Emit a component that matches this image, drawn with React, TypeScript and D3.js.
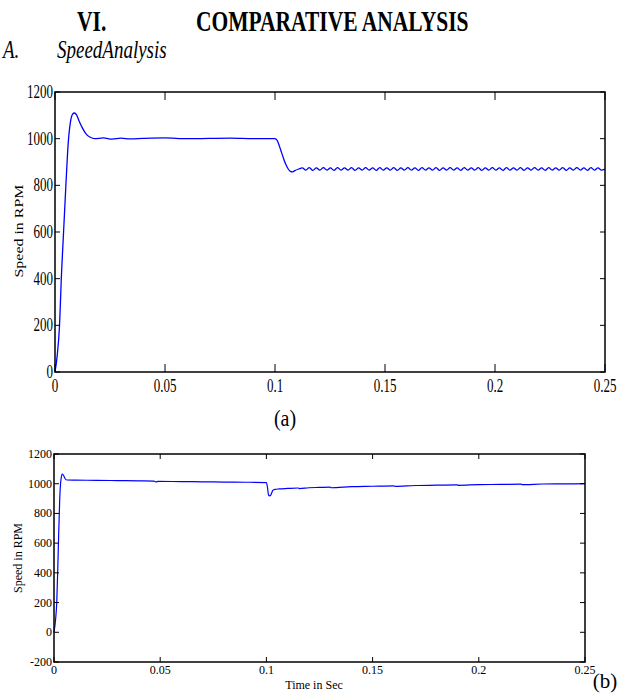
import React from "react";
import * as d3 from "d3";

// ---------- Data ----------
const xTicks = [0, 0.05, 0.1, 0.15, 0.2, 0.25];
const xTickLabels = ["0", "0.05", "0.1", "0.15", "0.2", "0.25"];
const yTicksA = [0, 200, 400, 600, 800, 1000, 1200];
const yTicksB = [-200, 0, 200, 400, 600, 800, 1000, 1200];

// (a) speed response: start-up, steady state, load step at 0.1 s
const timeA = [0, 0.001, 0.002, 0.003, 0.004, 0.005, 0.006, 0.007, 0.008, 0.0088, 0.0098, 0.011, 0.0125, 0.014, 0.016, 0.018, 0.022, 0.026, 0.03, 0.034, 0.04, 0.05, 0.06, 0.07, 0.08, 0.09, 0.1, 0.101, 0.102, 0.103, 0.104, 0.105, 0.106, 0.107, 0.108, 0.109, 0.1108];
const speedA = [0, 70, 190, 430, 620, 810, 980, 1070, 1105, 1110, 1102, 1075, 1045, 1022, 1006, 1000, 1003, 998, 1002, 999, 1001, 1003, 1000, 1001, 1002, 1000, 1000, 992, 968, 940, 912, 888, 870, 860, 858, 863, 870];
// (a) ripple after the load step, sampled every 1.6 ms from 0.1108 s
const rippleAStart = 0.1108;
const rippleAStep = 0.0016;
const rippleA = [
  870, 875, 865, 876, 864, 875, 865, 876, 865, 875, 864, 876, 865, 875, 865, 876,
  864, 875, 865, 876, 865, 875, 864, 876, 865, 875, 865, 876, 864, 875, 865, 876,
  865, 875, 864, 876, 865, 875, 865, 876, 864, 875, 865, 876, 865, 875, 864, 876,
  865, 875, 865, 876, 864, 875, 865, 876, 865, 875, 864, 876, 865, 875, 865, 876,
  864, 875, 865, 876, 865, 875, 864, 876, 865, 875, 865, 876, 864, 875, 865, 876,
  865, 875, 864, 876, 865, 875, 865, 870,
];

// (b) speed response
const timeB = [0, 0.0007, 0.0013, 0.002, 0.0027, 0.0033, 0.0039, 0.0045, 0.0052, 0.006, 0.01, 0.02, 0.03, 0.04, 0.047, 0.048, 0.049, 0.06, 0.07, 0.08, 0.09, 0.1, 0.1005, 0.101, 0.1015, 0.102, 0.1025, 0.103, 0.104, 0.106, 0.11, 0.115, 0.1155, 0.12, 0.125, 0.13, 0.1305, 0.14, 0.15, 0.16, 0.1605, 0.17, 0.18, 0.19, 0.1905, 0.2, 0.21, 0.22, 0.2205, 0.23, 0.24, 0.25];
const speedB = [0, 80, 200, 550, 900, 1030, 1065, 1055, 1035, 1025, 1024, 1023, 1021, 1019, 1017, 1012, 1016, 1014, 1013, 1011, 1010, 1008, 975, 925, 918, 922, 938, 955, 962, 965, 968, 971, 967, 973, 975, 977, 973, 980, 983, 986, 982, 988, 990, 992, 989, 994, 995, 997, 994, 998, 999, 1000];

// ---------- Helpers ----------
const FONT = '"Liberation Serif","Times New Roman",Times,serif';

type TProps = {
  x: number; y: number; sx?: number; sy?: number; rotate?: number;
  size: number; anchor?: "start" | "middle" | "end"; weight?: string; italic?: boolean;
  children: React.ReactNode; clip?: string;
};
function T({ x, y, sx = 1, sy = 1, rotate, size, anchor = "start", weight, italic, children, clip }: TProps) {
  const tr = `translate(${x},${y})${rotate ? ` rotate(${rotate})` : ""} scale(${sx},${sy})`;
  return (
    <text
      transform={tr}
      fontSize={size}
      fontFamily={FONT}
      textAnchor={anchor}
      fontWeight={weight}
      fontStyle={italic ? "italic" : undefined}
      fill="#000"
      clipPath={clip}
    >
      {children}
    </text>
  );
}

type ChartProps = {
  x0: number; x1: number; yTop: number; yBot: number;
  yDomain: [number, number]; yTicks: number[];
  times: number[]; values: number[];
  xTickLen: number; yTickLen: number;
  lblSize: number; lblSy: number; yLblSize: number; yLblSy: number;
  xLblBase: number; yLblDy: number; lineW: number;
};

function Chart(p: ChartProps) {
  const x = d3.scaleLinear().domain([0, 0.25]).range([p.x0, p.x1]);
  const y = d3.scaleLinear().domain(p.yDomain).range([p.yBot, p.yTop]);
  const pts = p.times.map((t, i) => [t, p.values[i]] as [number, number]);
  const line = d3
    .line<[number, number]>()
    .x((d) => x(d[0]))
    .y((d) => y(d[1]))
    .curve(d3.curveMonotoneX);
  return (
    <g>
      <path d={line(pts) || ""} fill="none" stroke="#0000ff" strokeWidth={p.lineW} />
      <rect x={p.x0} y={p.yTop} width={p.x1 - p.x0} height={p.yBot - p.yTop} fill="none" stroke="#000" strokeWidth={1.5} />
      {xTicks.map((t, i) => (
        <g key={"xt" + i}>
          <line x1={x(t)} x2={x(t)} y1={p.yBot} y2={p.yBot - p.xTickLen} stroke="#000" strokeWidth={1} />
          <line x1={x(t)} x2={x(t)} y1={p.yTop} y2={p.yTop + p.xTickLen} stroke="#000" strokeWidth={1} />
          <T x={x(t)} y={p.xLblBase} size={p.lblSize} sy={p.lblSy} anchor="middle">{xTickLabels[i]}</T>
        </g>
      ))}
      {p.yTicks.map((v, i) => (
        <g key={"yt" + i}>
          <line x1={p.x0} x2={p.x0 + p.yTickLen} y1={y(v)} y2={y(v)} stroke="#000" strokeWidth={1} />
          <line x1={p.x1} x2={p.x1 - p.yTickLen} y1={y(v)} y2={y(v)} stroke="#000" strokeWidth={1} />
          <T x={p.x0 - 2} y={y(v) + p.yLblDy} size={p.yLblSize} sy={p.yLblSy} anchor="end">{String(v)}</T>
        </g>
      ))}
    </g>
  );
}

export default function App() {
  const timesA = timeA.concat(rippleA.slice(1).map((_, i) => rippleAStart + (i + 1) * rippleAStep));
  const valuesA = speedA.concat(rippleA.slice(1));
  return (
    <svg width={629} height={693} style={{ position: "absolute", left: 0, top: 0, background: "#fff" }}>
      <defs>
        <clipPath id="clipTime">
          <rect x={0} y={0} width={629} height={405} />
        </clipPath>
      </defs>
      <rect x={0} y={0} width={629} height={693} fill="#fff" />
      {/* Headings */}
      <T x={77} y={31} size={21.5} sy={1.35} weight="bold">VI.</T>
      <T x={196} y={31} size={21.5} sy={1.35} weight="bold">COMPARATIVE ANALYSIS</T>
      <T x={3} y={58} size={19} sy={1.3} italic>A.</T>
      <T x={57} y={58} size={19} sy={1.3} italic>SpeedAnalysis</T>

      {/* Chart (a) */}
      <Chart
        x0={55} x1={605} yTop={92} yBot={372}
        yDomain={[0, 1200]} yTicks={yTicksA}
        times={timesA} values={valuesA}
        xTickLen={8} yTickLen={5}
        lblSize={13} lblSy={1.45} yLblSize={13} yLblSy={1.4}
        xLblBase={392} yLblDy={6} lineW={1.3}
      />
      <T x={23} y={231} size={12} sx={1.33} rotate={-90} anchor="middle">Speed in RPM</T>
      <T x={330} y={407} size={10.4} sy={1.4} anchor="middle" clip="url(#clipTime)">Time in Sec</T>
      <T x={285} y={426} size={20} sy={1.2} anchor="middle">(a)</T>

      {/* Chart (b) */}
      <Chart
        x0={54} x1={585} yTop={454} yBot={662}
        yDomain={[-200, 1200]} yTicks={yTicksB}
        times={timeB} values={speedB}
        xTickLen={5} yTickLen={5}
        lblSize={12} lblSy={1} yLblSize={12} yLblSy={1}
        xLblBase={674} yLblDy={4} lineW={1.2}
      />
      <T x={22} y={558} size={12} rotate={-90} anchor="middle">Speed in RPM</T>
      <T x={314} y={689} size={12} anchor="middle">Time in Sec</T>
      <T x={605} y={688} size={21} anchor="middle">(b)</T>
    </svg>
  );
}
